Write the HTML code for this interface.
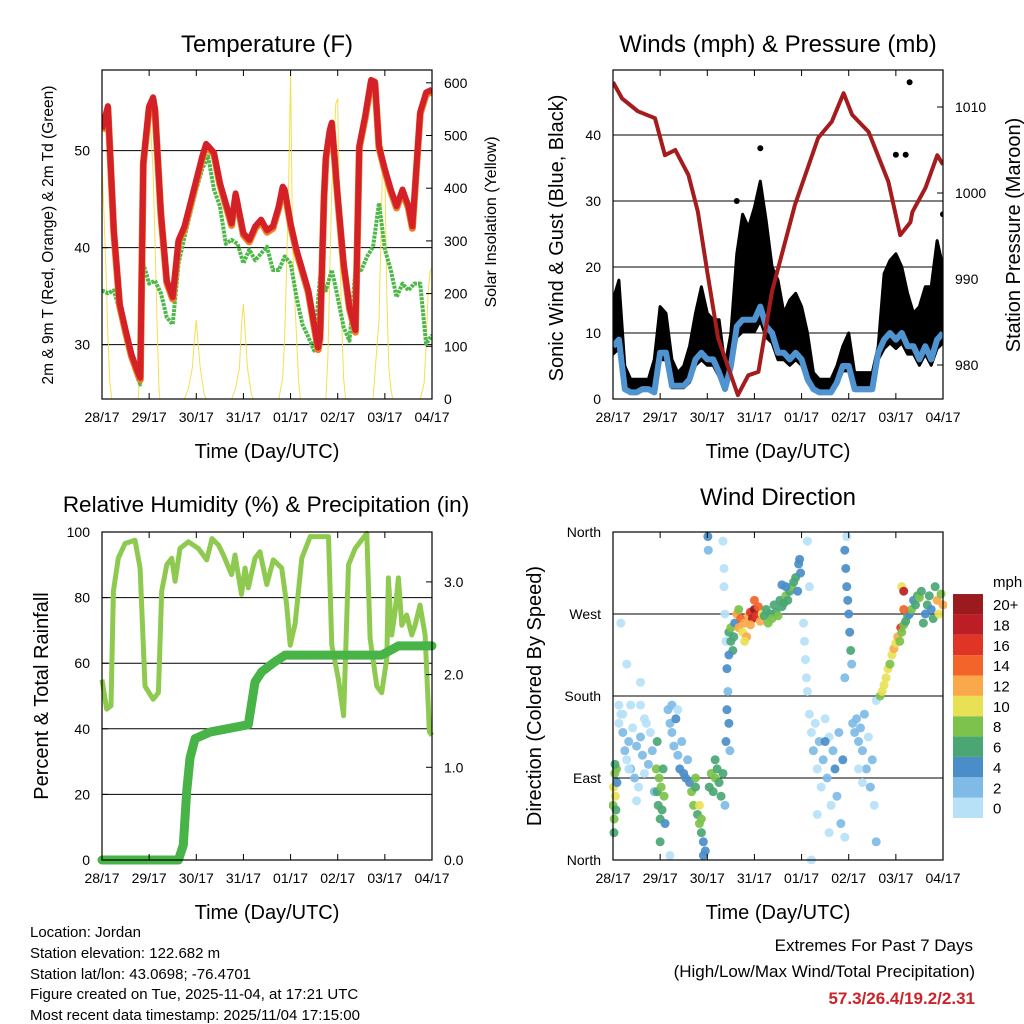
<!DOCTYPE html>
<html><head><meta charset="utf-8"><style>
html,body{margin:0;padding:0;background:#fff;}
svg{display:block;font-family:"Liberation Sans",sans-serif;}
</style></head><body>
<svg id="chart" width="1024" height="1024" viewBox="0 0 1024 1024" xmlns="http://www.w3.org/2000/svg">
<defs>
<clipPath id="cT"><rect x="102" y="70" width="330" height="329"/></clipPath>
<clipPath id="cW"><rect x="613" y="70" width="330" height="329"/></clipPath>
<clipPath id="cH"><rect x="97" y="527" width="340" height="338"/></clipPath>
<clipPath id="cD"><rect x="609" y="528" width="338" height="336"/></clipPath>
</defs>
<rect x="0" y="0" width="1024" height="1024" fill="#fff"/>
<g id="p1" clip-path="url(#cT)"></g>
<g id="p2" clip-path="url(#cW)"></g>
<g id="p3" clip-path="url(#cH)"></g>
<g id="p4" clip-path="url(#cD)"></g>
<g id="axes"></g>
<text x="267" y="52" font-size="24" text-anchor="middle">Temperature (F)</text>
<text x="778" y="52" font-size="24" text-anchor="middle">Winds (mph) &amp; Pressure (mb)</text>
<text x="266" y="512" font-size="22.5" text-anchor="middle">Relative Humidity (%) &amp; Precipitation (in)</text>
<text x="778" y="505" font-size="24" text-anchor="middle">Wind Direction</text>
<text x="267" y="458" font-size="20" text-anchor="middle">Time (Day/UTC)</text>
<text x="778" y="458" font-size="20" text-anchor="middle">Time (Day/UTC)</text>
<text x="267" y="919" font-size="20" text-anchor="middle">Time (Day/UTC)</text>
<text x="778" y="919" font-size="20" text-anchor="middle">Time (Day/UTC)</text>
<text transform="translate(53,235) rotate(-90)" font-size="15.5" text-anchor="middle">2m &amp; 9m T (Red, Orange) &amp; 2m Td (Green)</text>
<text transform="translate(496,222) rotate(-90)" font-size="16" text-anchor="middle">Solar Insolation (Yellow)</text>
<text transform="translate(563,238) rotate(-90)" font-size="20" text-anchor="middle">Sonic Wind &amp; Gust (Blue, Black)</text>
<text transform="translate(1020,235) rotate(-90)" font-size="20" text-anchor="middle">Station Pressure (Maroon)</text>
<text transform="translate(48,696) rotate(-90)" font-size="20" text-anchor="middle">Percent &amp; Total Rainfall</text>
<text transform="translate(541,696) rotate(-90)" font-size="20" text-anchor="middle">Direction (Colored By Speed)</text>
<text x="993" y="587" font-size="15">mph</text>
<g font-size="15">
<text x="30" y="937">Location: Jordan</text>
<text x="30" y="958">Station elevation: 122.682 m</text>
<text x="30" y="979">Station lat/lon: 43.0698; -76.4701</text>
<text x="30" y="999">Figure created on Tue, 2025-11-04, at 17:21 UTC</text>
<text x="30" y="1020">Most recent data timestamp: 2025/11/04 17:15:00</text>
</g>
<text x="973" y="951" font-size="17" text-anchor="end">Extremes For Past 7 Days</text>
<text x="975" y="977" font-size="17" text-anchor="end">(High/Low/Max Wind/Total Precipitation)</text>
<text x="975" y="1004" font-size="17" font-weight="bold" fill="#cc2229" text-anchor="end">57.3/26.4/19.2/2.31</text>
</svg>
<script>
// ---------- DATA ----------
const dayLabels = ["28/17","29/17","30/17","31/17","01/17","02/17","03/17","04/17"];
const tempHours = [0,3,6,9,12,15,18,19.5,21,24,26,27,30,33,36,39,42,45,48,51,53,54,57,60,63,66,68,69,72,75,78,81,84,87,90,92,93,96,99,102,105,108,110,111,113,114,116,117,120,123,126,129,130,131,134,137,139,141,144,147,150,153,156,158,162,165,168];
const tempRed = [52.2,54.6,41.8,34.2,31.5,29.0,27.3,26.6,48.8,54.6,55.5,54.3,43.6,36.6,34.9,40.8,42.2,44.6,47.0,49.4,50.7,50.5,49.8,46.7,44.6,42.5,45.6,44.6,41.5,40.8,42.2,42.9,41.8,42.2,44.3,46.3,46.0,42.5,39.8,37.7,35.6,32.1,29.7,30.8,45.3,49.4,52.2,52.9,45.3,38.4,33.9,31.5,41.1,50.5,53.6,57.3,57.1,50.5,48.1,46.0,44.3,46.0,44.3,42.2,54.0,56.0,56.3];
const tdHours = [0,3,6,9,12,15,18,19.5,21,24,27,30,33,36,39,42,45,48,51,54,57,60,63,66,69,72,75,78,81,84,87,90,93,96,99,102,105,108,111,114,117,120,123,126,129,132,135,138,141,144,147,150,153,156,159,162,165,168];
const tdGreen = [35.6,35.3,35.6,33.5,30.8,28.7,26.6,25.9,38.4,36.3,36.6,35.3,32.8,32.1,38.4,41.1,43.6,46.0,48.1,49.4,46.0,44.3,40.4,40.8,40.4,38.4,39.8,38.7,39.4,40.1,37.7,37.7,39.1,38.4,34.9,32.1,30.8,29.4,37.0,35.6,37.7,34.9,31.8,30.4,37.7,37.7,39.1,40.1,44.6,39.8,37.7,34.9,36.3,35.6,36.3,36.3,30.1,31.0];
const solarHours = [0,1,2,3,4,5,18.5,19,20,21,22,23,24,25,26,27,28,29,29.5,42,44,46,47,48,49,50,52,53,66,68,70,71,72,73,74,76,77,90,92,93,94,95,96,97,98,99,100,101,114,115,116,117,118,119,120,121,122,123,124,138,139,141,142,143,144,145,146,147,148,162,164,165,166,167,168];
const solarVals = [450,350,250,120,30,0,0,40,150,300,420,520,540,500,430,300,150,20,0,0,20,60,110,150,100,60,10,0,0,20,60,140,180,120,60,10,0,0,40,120,250,400,620,300,200,120,40,0,0,80,250,400,480,560,570,300,150,40,0,0,50,150,300,480,430,200,60,20,0,0,30,100,200,240,250];
const windHours = [0,3,6,9,12,15,18,21,24,27,30,33,36,39,42,45,48,51,54,57,60,63,66,69,72,75,78,81,84,87,90,93,96,99,102,105,108,111,114,117,120,123,126,129,132,135,138,141,144,147,150,153,156,159,162,165,168];
const sonicWind = [8,9,1.5,1,1,1.5,1.5,1,7,7,2,2,2,3,6,7,6,6,4,1.5,5,11,12,12,12,14,11,10,7,7,6,7,6,3,1.5,1,1,1,2.5,5,5,1.5,1.5,1.5,1.5,7,9,10,9,10,8,8,6,8,6,9,10];
const gustWind = [15,18,5,3,3,3,3,6,14,13,6,4,5,8,13,17,13,12,12,5,10,22,28,26,29,33,27,20,18,13,15,16,14,10,4,3,3,3,5,8,10,4,4,4,4,8,19,21,22,20,16,13,14,17,17,24,20];
const gustOutlierHours = [75,151,144,149,168,63];
const gustOutlierVals = [38,48,37,37,28,30];
const pressHours = [0,4.6,12.7,21.4,26.4,31.7,38.4,43.2,48,53.5,63.6,68.9,74,80.9,92.6,104.4,111.4,117.4,121.7,130.1,140.2,146.2,151.4,152.4,159.1,165.1,168];
const pressVals = [1012.9,1011.0,1009.5,1008.7,1004.4,1005.0,1002.1,997.8,990.8,983.1,976.5,978.8,979.2,988.5,998.6,1006.4,1008.3,1011.6,1009.1,1007.1,1001.3,995.1,996.6,997.8,1000.6,1004.4,1003.3];
const rhHours = [0,2.4,4.6,5.8,8.3,11.7,16.8,19.4,21.9,26,28.7,30.4,33,35.5,37.2,39.7,44,49,53.3,56,59.3,61.8,66,67.7,71,72.8,74.5,77.9,80.4,83.9,87.2,91.5,94,95.8,98.3,101.7,106,115.3,117,120.4,123,125.5,128.9,134.8,136.5,139.9,142.4,145,145.8,147.5,149.2,150.9,152.6,155.1,157.7,159.4,161.9,164.5,166.7,168];
const rhVals = [55,46,47,82,92,96.5,97.5,89,53,49,51,82,90,92,85,95,97,95,91.5,98,96,93,87,93,81,89,83,92,94,84,91.5,89,78,65.5,72,92,98.6,98.6,65.5,55,44,90,95,99.6,67.6,53,51,61.5,86,68.6,75.7,86,71.6,74.7,68.6,71.6,77.7,68.6,39.1,38];
const rainHours = [0,38.9,41.4,43.1,44.8,47.4,55,74.5,77.9,81.3,88.1,93.2,142.4,145.8,150.9,168];
const rainVals = [0,0,0.16,0.74,1.10,1.31,1.38,1.46,1.92,2.03,2.14,2.21,2.21,2.25,2.31,2.31];
const dirHours = [0,0.3,0.6,0.9,1.2,1.5,1.8,0.5,1,2, 3,4,5,6,7,8,9,10,11,12,13,14,15,16,17,18,19,20,21,4,14,14,7,8,12,5,9,3,16, 22,22.5,23,23.5,24,24.5,25,25.5,26,26.5,22.5,24, 28,29,30,31,32,33,34,35,36,37,38,39,30,33,29, 40,41,42,43,44,45,46,47,44,42,45,46, 48.3,48.5,49,50,51,52,53,54,55,56,52, 56,56.5,57,57.5,58,58.5,59,59.5,58,57,57.5,56.5, 59,60,61,60,61.5,59,62, 63,64,65,66,67,68,69,70,71,72,73,74,75,76,67,70,72,64, 77,78,79,80,81,82,83,84,85,86,87,88,89,90,91,92,93,94,95,95.5,94.5,88,86, 97,97.5,98,98.5,99,99,100, 100,101,102,103,104,105,106,107,108,109,110,111,112,113,114,115,116,117,118,104,110,101,108, 118,118.5,119,119.5,120,120.5,121,121.5,119,118, 122,123,124,125,126,127,128,129,130,131,132,133,134,134,125,127, 136,137,138,139,140,141,142,143,144,145,146,146.5,147,148,149,150,151,152,153,154,155,156,157,158,159,160,161,162,163,164,165,166,167,168,147,148,148];
const dirVals = [60,80,45,95,70,55,100,30,105,85, 150,160,140,120,110,130,100,145,90,125,80,135,115,95,150,105,140,120,75,260,195,170,215,100,65,160,170,170,155, 100,75,60,90,45,80,55,100,70,40,130,20, 165,150,140,125,155,115,100,130,95,90,110,85,170,165,5, 75,60,80,50,40,30,20,10,60,90,45,5, 355,340,80,95,75,90,100,85,70,95,110, 350,300,270,240,210,185,150,120,165,60,130,320, 250,240,230,255,245,225,260, 270,255,265,250,260,245,268,272,265,275,268,278,262,270,240,258,285,275, 268,275,260,270,265,280,272,268,285,278,282,290,285,295,300,305,310,295,330,315,325,300,302, 260,240,220,200,185,350,300, 160,140,120,150,100,130,80,110,155,90,135,60,120,100,70,140,40,110,25,50,30,0,130, 340,320,300,285,270,250,230,215,355,200, 150,140,155,130,145,120,160,100,135,80,110,60,20,175,100,85, 180,185,192,200,210,215,225,232,238,245,240,255,250,258,262,268,270,275,285,280,290,288,295,260,270,280,290,275,265,300,285,270,292,280,300,295,275];
const dirSpeeds = [9,10,8,8,10,7,9,6,7,5, 1,0,2,2,1,3,2,1,2,2,1,3,2,1,0,2,1,3,2,0,0,1,1,0,0,0,0,1,1, 8,7,6,8,6,9,7,6,8,5,6,6, 2,3,3,2,4,3,4,2,4,4,3,5,2,1,1, 8,9,7,6,8,7,5,4,10,8,8,4, 4,3,7,8,7,8,7,6,7,7,6, 1,1,1,0,4,3,4,3,4,2,4,1, 6,7,6,8,7,5,5, 12,12,14,11,12,12,13,16,18,20,16,14,13,10,10,12,15,9, 7,6,8,7,9,7,6,8,7,6,7,8,7,7,8,6,7,5,4,5,4,4,4, 1,1,1,0,1,0,0, 0,1,2,1,1,2,0,3,1,2,1,0,2,4,3,2,3,4,1,0,1,0,4, 4,4,4,4,4,4,6,3,1,3, 2,3,2,2,3,2,2,3,1,2,2,1,2,0,1,0, 9,10,10,11,10,9,10,12,11,13,9,16,8,8,7,6,5,8,5,6,7,8,6,6,5,7,6,4,6,7,12,10,8,12,10,18,14];
const speedBins = ["0","2","4","6","8","10","12","14","16","18","20+"];
const speedColors = ["#b6e1f7","#7fbbe6","#4a8dc8","#4aa774","#7cc24c","#e8e156","#f9a94a","#f26429","#e03426","#bd1e26","#9a1a1e"];
const tempTicks = [30,40,50];
const solarTicks = [0,100,200,300,400,500,600];
const windTicks = [0,10,20,30,40];
const pressTicks = [980,990,1000,1010];
const rhTicks = [0,20,40,60,80,100];
const rainTicks = ["0.0","1.0","2.0","3.0"];
const dirTicks = [0,90,180,270,360];
const dirLabels = ["North","East","South","West","North"];

// ---------- HELPERS ----------
const NS = "http://www.w3.org/2000/svg";
function mk(tag, attrs, parent){
  const e = document.createElementNS(NS, tag);
  for (const k in attrs) e.setAttribute(k, attrs[k]);
  parent.appendChild(e);
  return e;
}
const L = {a:102, b:432}, R = {a:613, b:943};
const T = {a:70, b:399}, B = {a:532, b:860};
function xs(box){ return h => box.a + h * (box.b - box.a) / 168; }
const x1 = xs(L), x2 = xs(R);
const yTemp = t => 399 - (t - 24.4) * 9.7;
const ySol = w => 399 - w * 0.527;
const yWind = m => 399 - m * 6.6;
const yPress = p => 107 + (1010 - p) * 8.6;
const yRH = r => 860 - r * 3.28;
const yRain = i => 860 - i * 92.7;
const yDir = d => 860 - d * 328 / 360;
function pts(hs, vs, fx, fy){ return hs.map((h,i)=>fx(h).toFixed(1)+","+fy(vs[i]).toFixed(1)).join(" "); }

const p1 = document.getElementById("p1"), p2 = document.getElementById("p2"),
      p3 = document.getElementById("p3"), p4 = document.getElementById("p4"),
      ax = document.getElementById("axes");

// ---------- GRIDLINES ----------
tempTicks.forEach(t=>{
  const g = mk("line",{x1:L.a,x2:L.b,y1:yTemp(t),y2:yTemp(t),stroke:"#000","stroke-width":1},p1);
  
  
});
windTicks.slice(1).forEach(t=>{
  const g = mk("line",{x1:R.a,x2:R.b,y1:yWind(t),y2:yWind(t),stroke:"#000","stroke-width":1},p2);
  
  
});
rhTicks.slice(1,5).forEach(t=>{
  const g = mk("line",{x1:L.a,x2:L.b,y1:yRH(t),y2:yRH(t),stroke:"#000","stroke-width":1},p3);
  
  
});
dirTicks.slice(1,4).forEach(t=>{
  const g = mk("line",{x1:R.a,x2:R.b,y1:yDir(t),y2:yDir(t),stroke:"#000","stroke-width":1},p4);
  
  
});

// ---------- PANEL 1 ----------
const sol = mk("polyline",{points:pts(solarHours,solarVals,x1,ySol),fill:"none",stroke:"#f5dc3c","stroke-width":1,"stroke-opacity":0.9},p1);


const td = mk("polyline",{points:pts(tdHours,tdGreen,x1,yTemp),fill:"none",stroke:"#4db848","stroke-width":4,"stroke-dasharray":"3 1","stroke-linejoin":"round"},p1);


const t9 = mk("polyline",{points:pts(tempHours,tempRed,x1,t=>yTemp(t)+2),fill:"none",stroke:"#f07d22","stroke-width":7,"stroke-linejoin":"round"},p1);


const t2 = mk("polyline",{points:pts(tempHours,tempRed,x1,yTemp),fill:"none",stroke:"#d42027","stroke-width":6,"stroke-linejoin":"round"},p1);



// ---------- PANEL 2 ----------
const lowerW = sonicWind.map(v=>v*0.85);
const band = pts(windHours,gustWind,x2,yWind)+" "+pts(windHours.slice().reverse(),lowerW.slice().reverse(),x2,yWind);
const gb = mk("polygon",{points:band,fill:"#000",stroke:"#000","stroke-width":3,"stroke-linejoin":"round"},p2);


gustOutlierHours.forEach((h,i)=>{
  const c = mk("circle",{cx:x2(h),cy:yWind(gustOutlierVals[i]),r:3,fill:"#000"},p2);
  
  
});
const sw = mk("polyline",{points:pts(windHours,sonicWind,x2,yWind),fill:"none",stroke:"#4f93d1","stroke-width":6,"stroke-linejoin":"round"},p2);


const pr = mk("polyline",{points:pts(pressHours,pressVals,x2,yPress),fill:"none",stroke:"#a51c1e","stroke-width":4,"stroke-linejoin":"round"},p2);



// ---------- PANEL 3 ----------
const rh = mk("polyline",{points:pts(rhHours,rhVals,x1,yRH),fill:"none",stroke:"#8fca50","stroke-width":5,"stroke-linejoin":"round"},p3);


const rn = mk("polyline",{points:pts(rainHours,rainVals,x1,yRain),fill:"none",stroke:"#48b347","stroke-width":9,"stroke-linejoin":"round","stroke-linecap":"round"},p3);



// ---------- PANEL 4 ----------
function binOf(s){ return Math.min(10, Math.floor(s/2)); }
dirHours.forEach((h,i)=>{
  const c = mk("circle",{cx:x2(h),cy:yDir(dirVals[i]),r:4.5,fill:speedColors[binOf(dirSpeeds[i])],"fill-opacity":0.92},p4);
  
  
});
speedBins.forEach((lab,i)=>{
  const y = 818 - (i+1)*20.36;
  const r = mk("rect",{x:953,y:y,width:30,height:20.36,fill:speedColors[i]},ax);
  
  
  const t = mk("text",{x:993,y:y+16,"font-size":15},ax);
  t.textContent = lab;
  
  
});

// ---------- AXES ----------
function frame(box, yb, nm){
  const r = mk("rect",{x:box.a,y:yb.a,width:box.b-box.a,height:yb.b-yb.a,fill:"none",stroke:"#000","stroke-width":1.2},ax);
  
  
  dayLabels.forEach((lab,i)=>{
    const x = box.a + i*(box.b-box.a)/7;
    const tk = mk("path",{d:`M${x},${yb.b}v-6M${x},${yb.a}v6`,stroke:"#000","stroke-width":1},ax);
    
    
    const t = mk("text",{x:x,y:yb.b+23,"font-size":14,"text-anchor":"middle"},ax);
    t.textContent = lab;
    
    
  });
}
frame(L,T,"temperature-plot-frame");
frame(R,T,"winds-plot-frame");
frame(L,B,"humidity-plot-frame");
frame(R,B,"direction-plot-frame");

function yTicks(vals, labels, fy, xe, side, nm){
  vals.forEach((v,i)=>{
    const y = fy(v);
    const d = side==="l" ? `M${xe},${y}h6` : `M${xe},${y}h-6`;
    const tk = mk("path",{d:d,stroke:"#000","stroke-width":1},ax);
    
    
    const t = mk("text",{x: side==="l" ? xe-12 : xe+12, y:y+5,"font-size":14,"text-anchor": side==="l"?"end":"start"},ax);
    t.textContent = labels[i];
    
    
  });
}
yTicks(tempTicks,tempTicks,yTemp,L.a,"l","temperature-y");
yTicks(solarTicks,solarTicks,ySol,L.b,"r","solar-y");
yTicks(windTicks,windTicks,yWind,R.a,"l","wind-y");
yTicks(pressTicks,pressTicks,yPress,R.b,"r","pressure-y");
yTicks(rhTicks,rhTicks,yRH,L.a,"l","humidity-y");
yTicks(rainTicks.map(Number),rainTicks,yRain,L.b,"r","rain-y");
yTicks(dirTicks,dirLabels,yDir,R.a,"l","direction-y");
</script>
</body></html>
